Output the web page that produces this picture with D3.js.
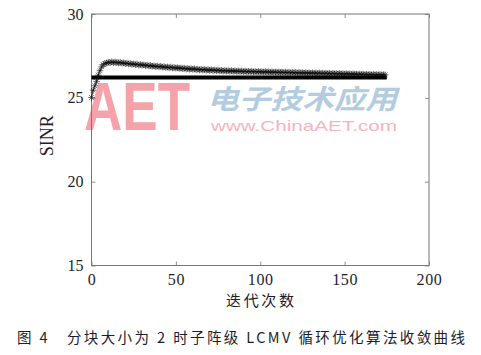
<!DOCTYPE html>
<html>
<head>
<meta charset="utf-8">
<script src="https://cdn.jsdelivr.net/npm/d3@7"></script>
<style>
  body { margin: 0; background: #fff; }
  svg { display: block; }
</style>
</head>
<body>
<svg id="chart" width="481" height="355"></svg>
<script>
// SINR per iteration (star curve), iteration index = array position
const sinrLoop = [
  25.02, 25.45, 25.72, 25.98, 26.35, 26.62, 26.85, 26.98, 27.05, 27.08,
  27.12, 27.10, 27.15, 27.09, 27.13, 27.11, 27.08, 27.12, 27.06, 27.09,
  27.04, 27.07, 27.02, 27.05, 26.99, 27.03, 26.98, 27.01, 26.95, 26.99,
  26.94, 26.97, 26.92, 26.95, 26.90, 26.93, 26.88, 26.91, 26.86, 26.89,
  26.85, 26.88, 26.83, 26.86, 26.81, 26.84, 26.80, 26.83, 26.78, 26.81,
  26.77, 26.80, 26.75, 26.78, 26.74, 26.77, 26.72, 26.75, 26.71, 26.74,
  26.70, 26.73, 26.68, 26.71, 26.67, 26.70, 26.66, 26.69, 26.65, 26.68,
  26.64, 26.67, 26.63, 26.66, 26.62, 26.65, 26.61, 26.64, 26.60, 26.63,
  26.60, 26.62, 26.59, 26.62, 26.58, 26.61, 26.58, 26.60, 26.57, 26.60,
  26.56, 26.59, 26.56, 26.58, 26.55, 26.58, 26.55, 26.57, 26.54, 26.57,
  26.54, 26.56, 26.53, 26.56, 26.53, 26.55, 26.52, 26.55, 26.52, 26.54,
  26.51, 26.54, 26.51, 26.53, 26.50, 26.53, 26.50, 26.52, 26.49, 26.52,
  26.49, 26.51, 26.48, 26.51, 26.48, 26.50, 26.47, 26.50, 26.47, 26.49,
  26.46, 26.49, 26.46, 26.48, 26.45, 26.48, 26.45, 26.47, 26.44, 26.47,
  26.44, 26.46, 26.43, 26.46, 26.43, 26.45, 26.42, 26.45, 26.42, 26.44,
  26.41, 26.44, 26.41, 26.43, 26.40, 26.43, 26.40, 26.42, 26.39, 26.42,
  26.39, 26.41, 26.38, 26.41, 26.38, 26.40, 26.37, 26.40, 26.37, 26.39,
  26.36, 26.39, 26.36, 26.38, 26.37
];
// reference (thick) line
const refX = [0, 175];
const refY = [26.22, 26.22];

const xTicks = [0, 50, 100, 150, 200];
const yTicks = [15, 20, 25, 30];
const xLabel = "迭代次数";
const yLabel = "SINR";
const caption = "图 4　分块大小为 2 时子阵级 LCMV 循环优化算法收敛曲线";

const svg = d3.select("#chart");
const pLeft = 91.5, pRight = 429, pTop = 14, pBottom = 265.5;

const x = d3.scaleLinear().domain([0, 200]).range([pLeft, pRight]);
const y = d3.scaleLinear().domain([15, 30]).range([pBottom, pTop]);

const serif = "'Liberation Serif', 'Times New Roman', serif";
const cjk = "'Noto Sans CJK SC', sans-serif";

// watermark
const wm = svg.append("g").attr("class", "watermark");
wm.append("text")
    .attr("x", 84).attr("y", 130)
    .attr("font-family", "'Liberation Sans', Arial, sans-serif")
    .attr("font-weight", "bold")
    .attr("font-size", 68)
    .attr("textLength", 106)
    .attr("lengthAdjust", "spacingAndGlyphs")
    .attr("fill", "#f5a3aa")
    .text("AET");
wm.append("text")
    .attr("x", 207).attr("y", 109)
    .attr("font-family", cjk)
    .attr("font-weight", "bold")
    .attr("font-size", 27)
    .attr("font-style", "italic")
    .attr("textLength", 190)
    .attr("lengthAdjust", "spacingAndGlyphs")
    .attr("fill", "#b3cce0")
    .text("电子技术应用");
wm.append("text")
    .attr("x", 211).attr("y", 131)
    .attr("font-family", "'Liberation Sans', Arial, sans-serif")
    .attr("font-size", 15)
    .attr("textLength", 186)
    .attr("lengthAdjust", "spacingAndGlyphs")
    .attr("fill", "#f7b4ba")
    .text("www.ChinaAET.com");

// axes
const gx = svg.append("g")
    .attr("transform", `translate(0,${pBottom})`)
    .call(d3.axisBottom(x).tickValues(xTicks).tickSizeInner(-4).tickSizeOuter(0).tickPadding(8));
const gxTop = svg.append("g")
    .attr("transform", `translate(0,${pTop})`)
    .call(d3.axisTop(x).tickValues(xTicks).tickSizeInner(-4).tickSizeOuter(0).tickFormat(""));
const gy = svg.append("g")
    .attr("transform", `translate(${pLeft},0)`)
    .call(d3.axisLeft(y).tickValues(yTicks).tickSizeInner(-4).tickSizeOuter(0).tickPadding(8));
const gyRight = svg.append("g")
    .attr("transform", `translate(${pRight},0)`)
    .call(d3.axisRight(y).tickValues(yTicks).tickSizeInner(-4).tickSizeOuter(0).tickFormat(""));

[gx, gxTop, gy, gyRight].forEach(g => {
  g.select(".domain").remove();
  g.selectAll(".tick line").attr("stroke", "#777").attr("stroke-width", 0.8);
  g.selectAll(".tick text")
      .attr("font-family", serif)
      .attr("font-size", 16)
      .attr("fill", "#1c1c2c");
});
gx.selectAll(".tick text").attr("letter-spacing", 0.6);

svg.append("rect")
    .attr("x", pLeft).attr("y", pTop)
    .attr("width", pRight - pLeft).attr("height", pBottom - pTop)
    .attr("fill", "none")
    .attr("stroke", "#777")
    .attr("stroke-width", 1);

// star curve
const pts = sinrLoop.map((v, i) => [i, v]);
svg.append("path")
    .datum(pts)
    .attr("fill", "none")
    .attr("stroke", "#000")
    .attr("stroke-width", 0.8)
    .attr("d", d3.line().x(d => x(d[0])).y(d => y(d[1])));

const s = 3.4, d2 = 2.4;
const star = `M${-s},0H${s}M0,${-s}V${s}M${-d2},${-d2}L${d2},${d2}M${-d2},${d2}L${d2},${-d2}`;
svg.append("g").selectAll("path")
    .data(pts)
    .join("path")
    .attr("transform", d => `translate(${x(d[0])},${y(d[1])})`)
    .attr("d", star)
    .attr("fill", "none")
    .attr("stroke", "#111")
    .attr("stroke-width", 0.6);

// thick reference line
svg.append("path")
    .datum(refX.map((v, i) => [v, refY[i]]))
    .attr("fill", "none")
    .attr("stroke", "#000")
    .attr("stroke-width", 4)
    .attr("d", d3.line().x(d => x(d[0])).y(d => y(d[1])));

// labels
svg.append("text")
    .attr("transform", `translate(53,${(pTop + pBottom) / 2 - 4}) rotate(-90)`)
    .attr("text-anchor", "middle")
    .attr("font-family", serif)
    .attr("font-size", 18)
    .attr("fill", "#1c1c2c")
    .text(yLabel);

svg.append("text")
    .attr("x", 226).attr("y", 306)
    .attr("font-family", cjk)
    .attr("font-size", 15)
    .attr("textLength", 68)
    .attr("lengthAdjust", "spacing")
    .attr("fill", "#1c1c2c")
    .text(xLabel);

svg.append("text")
    .attr("x", 17).attr("y", 343)
    .attr("font-family", cjk)
    .attr("font-size", 14.5)
    .attr("textLength", 448)
    .attr("lengthAdjust", "spacing")
    .attr("fill", "#1c1c2c")
    .text(caption);
</script>
</body>
</html>
